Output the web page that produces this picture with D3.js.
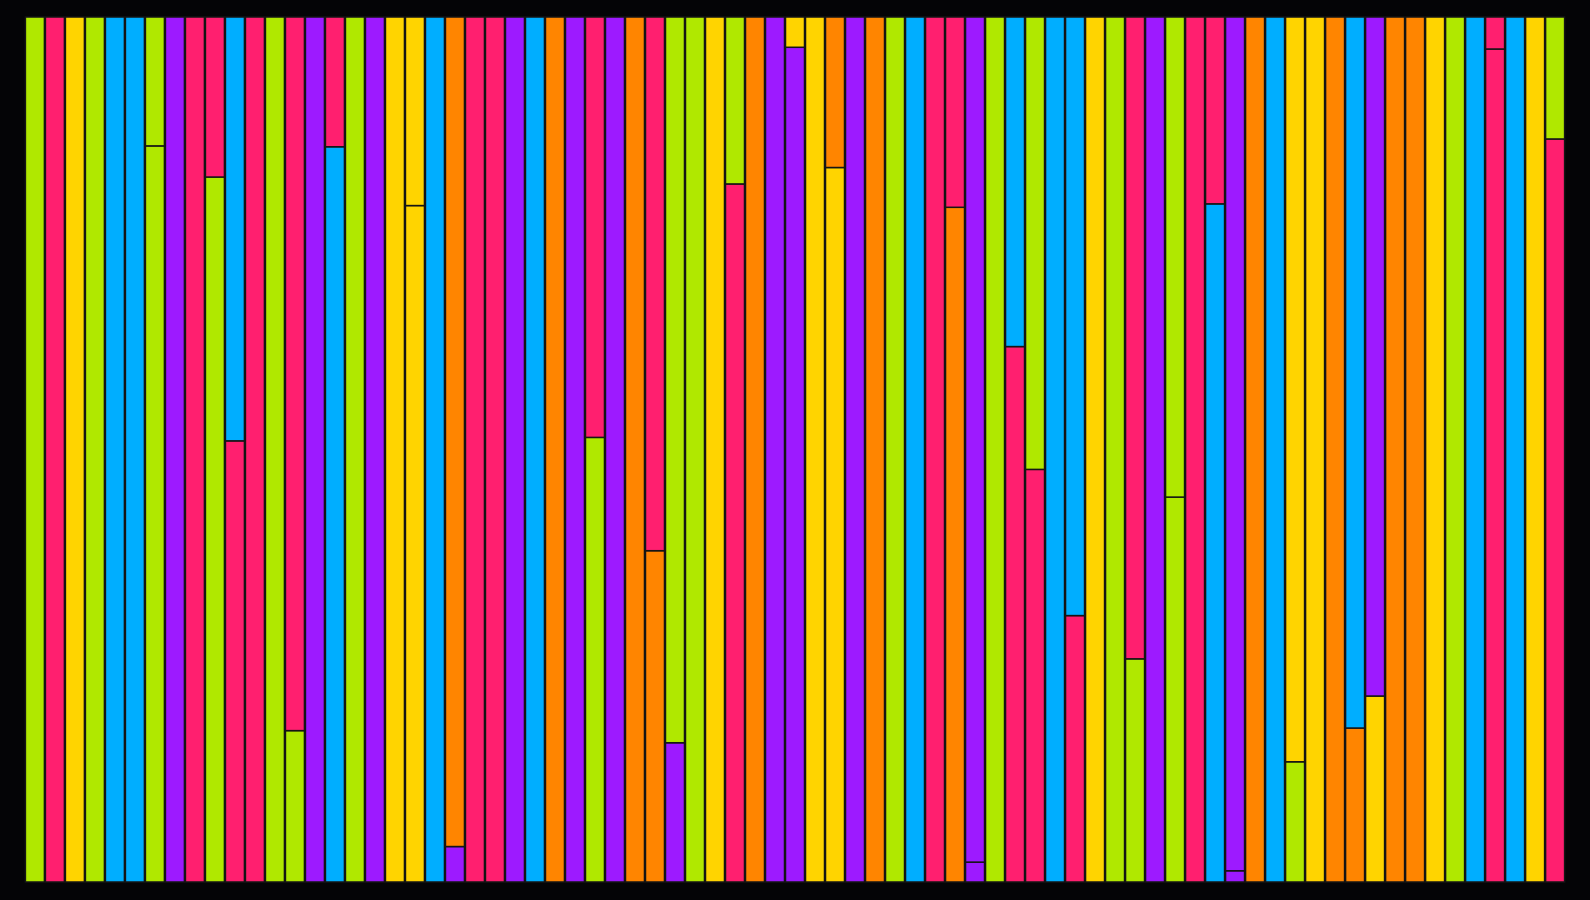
<!DOCTYPE html>
<html>
<head>
<meta charset="utf-8">
<script src="https://cdn.jsdelivr.net/npm/d3@7/dist/d3.min.js"></script>
<style>
  html, body { margin: 0; padding: 0; background: #040406; }
  svg { display: block; }
</style>
</head>
<body>
<svg id="chart" width="1590" height="900"></svg>
<script>
// ---- data ----
const categories = d3.range(1, 78).map(i => "Bar " + i);

// share (%) of the lower segment in each bar; the upper segment is the rest
const lowerShare = [
  100, 100, 100, 100, 100, 100, 85.1, 100, 100, 81.5,
  51.0, 100, 100, 17.5, 100, 85.0, 100, 100, 100, 78.2,
  100, 4.1, 100, 100, 100, 100, 100, 100, 51.4, 100,
  100, 38.3, 16.1, 100, 100, 80.7, 100, 100, 96.5, 100,
  82.6, 100, 100, 100, 100, 100, 78.0, 2.3, 100, 61.9,
  47.7, 100, 30.8, 100, 100, 25.8, 100, 44.5, 100, 78.4,
  1.3, 100, 100, 13.9, 100, 100, 17.8, 21.5, 100, 100,
  100, 100, 100, 96.3, 100, 100, 85.9
];

// group of the lower segment
const lowerGroup = [
  "G","P","Y","G","B","B","G","V","P","G",
  "P","P","G","G","V","B","G","V","Y","Y",
  "B","V","P","P","V","B","O","V","G","V",
  "O","O","V","G","Y","P","O","V","V","Y",
  "Y","V","O","G","B","P","O","V","G","P",
  "P","B","P","Y","G","G","V","G","P","B",
  "V","O","B","G","Y","O","O","Y","O","O",
  "Y","G","B","P","B","Y","P"
];

// group of the upper segment (null where the bar has one segment)
const upperGroup = [
  null,null,null,null,null,null,"G",null,null,"P",
  "B",null,null,"P",null,"P",null,null,null,"Y",
  null,"O",null,null,null,null,null,null,"P",null,
  null,"P","G",null,null,"G",null,null,"Y",null,
  "O",null,null,null,null,null,"P","V",null,"B",
  "G",null,"B",null,null,"P",null,"G",null,"P",
  "V",null,null,"Y",null,null,"B","V",null,null,
  null,null,null,"P",null,null,"G"
];

const groups = ["G","P","Y","B","V","O"];
const palette = ["#b0e800","#ff1f6f","#ffd400","#00aeff","#9d1aff","#ff8500"];

// ---- chart ----
const svg = d3.select("#chart");
svg.append("rect").attr("width", 1590).attr("height", 900).attr("fill", "#040406");

const x = d3.scaleBand().domain(categories).range([25, 1565]).paddingInner(0.05).paddingOuter(0.02);
const y = d3.scaleLinear().domain([0, 100]).range([882, 17]);
const color = d3.scaleOrdinal().domain(groups).range(palette);

const rows = categories.map((c, i) => ({
  cat: c,
  lower: lowerShare[i],
  upper: 100 - lowerShare[i],
  lg: lowerGroup[i],
  ug: upperGroup[i]
}));

const stack = d3.stack().keys(["lower", "upper"]);
const series = stack(rows);

const segs = [];
series.forEach(s => {
  s.forEach(d => {
    const r = d.data;
    const v = d[1] - d[0];
    if (v <= 0) return;
    segs.push({
      cat: r.cat,
      y0: d[0],
      y1: d[1],
      group: s.key === "lower" ? r.lg : r.ug
    });
  });
});

svg.append("g")
  .selectAll("rect")
  .data(segs)
  .join("rect")
  .attr("x", d => x(d.cat))
  .attr("width", x.bandwidth())
  .attr("y", d => y(d.y1))
  .attr("height", d => y(d.y0) - y(d.y1))
  .attr("fill", d => color(d.group))
  .attr("stroke", "#151515")
  .attr("stroke-width", 1.5);
</script>
</body>
</html>
